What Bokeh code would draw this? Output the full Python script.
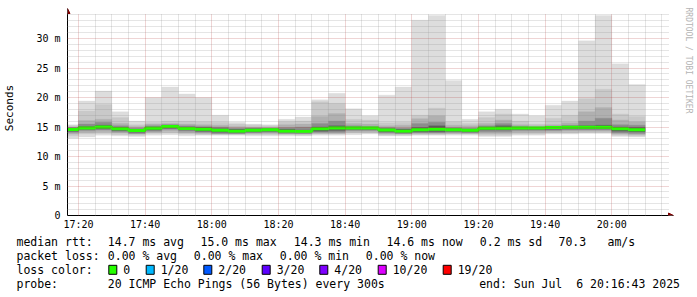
import math
from bokeh.plotting import figure
from bokeh.models import Range1d, FixedTicker, Arrow, NormalHead
from bokeh.layouts import column
from bokeh.core.properties import value
from bokeh.embed import file_html
from bokeh.resources import INLINE

# ---------------- data (ms) ----------------
bar_times = ["17:15", "17:20", "17:25", "17:30", "17:35", "17:40", "17:45", "17:50", "17:55",
             "18:00", "18:05", "18:10", "18:15", "18:20", "18:25", "18:30", "18:35", "18:40",
             "18:45", "18:50", "18:55", "19:00", "19:05", "19:10", "19:15", "19:20", "19:25",
             "19:30", "19:35", "19:40", "19:45", "19:50", "19:55", "20:00", "20:05"]
rtt_max = [15.4, 19.4, 21.1, 17.6, 16.0, 20.0, 21.8, 20.6, 20.0, 17.0, 15.8, 15.5, 15.4, 16.3, 16.7, 19.6, 20.7, 18.1,
           16.9, 20.4, 21.8, 33.1, 33.9, 22.9, 16.3, 17.6, 18.0, 17.2, 16.9, 18.7, 19.4, 29.6, 33.9, 25.7, 22.2]
rtt_p19 = [15.2, 17.7, 18.8, 16.6, 15.4, 15.8, 16.0, 16.0, 15.9, 15.8, 15.5, 15.3, 15.2, 15.9, 16.0, 19.3, 19.0, 16.3,
           16.2, 15.7, 15.8, 17.0, 18.2, 15.9, 15.6, 16.6, 17.2, 16.0, 15.5, 16.5, 17.0, 19.8, 21.4, 17.2, 16.8]
rtt_p17 = [15.0, 16.1, 16.3, 15.6, 15.1, 15.5, 15.6, 15.5, 15.4, 15.3, 15.1, 15.0, 14.9, 15.4, 15.5, 16.8, 17.3, 15.6,
           15.5, 15.2, 15.3, 16.4, 16.9, 15.3, 15.2, 15.6, 16.2, 15.4, 15.2, 15.4, 15.7, 17.6, 18.3, 16.2, 15.9]
rtt_p14 = [14.9, 15.5, 15.8, 15.2, 14.8, 15.2, 15.4, 15.2, 15.1, 15.0, 14.8, 14.8, 14.8, 14.9, 15.0, 15.6, 16.0, 15.2,
           15.1, 14.9, 14.8, 15.6, 15.8, 14.9, 14.8, 15.2, 15.6, 15.1, 15.0, 15.1, 15.3, 16.0, 16.5, 15.4, 15.3]
rtt_p12 = [14.8, 15.1, 15.3, 14.9, 14.6, 15.0, 15.3, 15.0, 14.9, 14.7, 14.6, 14.7, 14.7, 14.6, 14.5, 15.0, 15.2, 15.0,
           15.0, 14.7, 14.6, 14.9, 15.2, 14.7, 14.6, 15.0, 15.2, 15.0, 14.95, 15.0, 15.1, 15.2, 15.3, 15.0, 14.9]
median = [14.58, 14.85, 15.0, 14.7, 14.4, 14.8, 15.08, 14.75, 14.6, 14.45, 14.3, 14.45, 14.55, 14.3, 14.25, 14.7, 14.85, 14.85,
          14.85, 14.5, 14.3, 14.55, 14.6, 14.55, 14.45, 14.8, 14.8, 14.85, 14.85, 14.9, 14.97, 14.97, 14.97, 14.7, 14.55]
rtt_p9 = [14.3, 14.6, 14.7, 14.4, 14.1, 14.5, 14.8, 14.5, 14.3, 14.1, 14.0, 14.2, 14.3, 14.1, 14.0, 14.3, 14.4, 14.6,
          14.6, 14.2, 14.0, 14.2, 14.2, 14.3, 14.2, 14.5, 14.5, 14.6, 14.6, 14.6, 14.7, 14.7, 14.7, 14.3, 14.2]
rtt_p7 = [14.1, 14.4, 14.5, 14.2, 13.9, 14.3, 14.6, 14.3, 14.1, 13.9, 13.9, 14.0, 14.1, 13.9, 13.9, 14.1, 14.1, 14.4,
          14.4, 14.0, 13.9, 14.0, 14.0, 14.1, 14.0, 14.2, 14.2, 14.4, 14.4, 14.4, 14.5, 14.5, 14.5, 14.0, 13.9]
rtt_p4 = [13.8, 14.1, 14.2, 14.0, 13.8, 14.1, 14.3, 14.0, 13.9, 13.8, 13.8, 13.9, 13.9, 13.8, 13.8, 13.9, 13.9, 14.2,
          14.2, 13.8, 13.8, 13.9, 13.9, 13.9, 13.9, 13.9, 13.9, 14.1, 14.1, 14.2, 14.3, 14.3, 14.3, 13.8, 13.7]
rtt_p2 = [13.5, 13.8, 13.9, 13.7, 13.6, 13.9, 14.0, 13.8, 13.7, 13.7, 13.7, 13.7, 13.7, 13.7, 13.6, 13.8, 13.8, 14.0,
          14.0, 13.6, 13.6, 13.7, 13.7, 13.8, 13.8, 13.6, 13.6, 13.8, 13.8, 14.0, 14.0, 14.1, 14.1, 13.6, 13.5]
rtt_min = [13.1, 13.3, 13.6, 13.5, 13.4, 13.6, 13.7, 13.5, 13.6, 13.6, 13.6, 13.5, 13.5, 13.5, 13.5, 13.6, 13.6, 13.7,
           13.8, 13.5, 13.5, 13.6, 13.6, 13.6, 13.6, 13.4, 13.4, 13.6, 13.6, 13.8, 13.8, 13.9, 13.9, 13.4, 13.3]

y_ticks = [0, 5, 10, 15, 20, 25, 30]
y_tick_labels = ["0", "5 m", "10 m", "15 m", "20 m", "25 m", "30 m"]
x_tick_labels = ["17:20", "17:40", "18:00", "18:20", "18:40", "19:00", "19:20", "19:40", "20:00"]

rtt_stats = [14.7, 15.0, 14.3, 14.6]
rtt_sd = 0.2
rtt_ams = 70.3
loss_stats = [0.00, 0.00, 0.00, 0.00]
stat_names = ["avg", "max", "min", "now"]
loss_labels = ["0", "1/20", "2/20", "3/20", "4/20", "10/20", "19/20"]
loss_colors = ["#26ff00", "#00b8ff", "#0059ff", "#5e00ff", "#7e00ff", "#dd00ff", "#ff0000"]
probe_text = "20 ICMP Echo Pings (56 Bytes) every 300s"
end_text = "end: Sun Jul\u00a0 6 20:16:43 2025"
watermark = "RRDTOOL / TOBI OETIKER"

STEP = 5  # minutes per bar


def hm(s):
    h, m = s.split(":")
    return int(h) * 60 + int(m)


t0 = [hm(s) for s in bar_times]
t1 = [t + STEP for t in t0]

# ---------------- layout constants (pixels) ----------------
W, H_TOP, H_BOT = 697, 232, 65
FL, GR, GT, FB = 67, 668, 13, 215       # data-area left, grid right, grid top, axis bottom
START = 17 * 60 + 16 + 43 / 60.0        # 17:16:43
PX_MIN = 10.0 / 3.0
PX_MS = 5.9
MONO = "DejaVu Sans Mono"


def dx(px):
    return START + (px - FL) / PX_MIN


def dy(py):
    return (FB - py) / PX_MS


X_GRID_END = dx(GR)
Y_GRID_END = dy(GT)

p = figure(width=W, height=H_TOP, x_range=Range1d(START, dx(W)), y_range=Range1d(0, dy(0)),
           output_backend="svg", toolbar_location=None,
           min_border_left=FL, min_border_right=0, min_border_top=0, min_border_bottom=H_TOP - FB,
           background_fill_color="white", border_fill_color="white", outline_line_color=None)
p.frame_align = False

# smoke layers (outer -> inner)
layers = [(rtt_min, rtt_max, "#dddddd"), (rtt_p2, rtt_p19, "#c9c9c9"), (rtt_p4, rtt_p17, "#b0b0b0"),
          (rtt_p7, rtt_p14, "#8c8c8c"), (rtt_p9, rtt_p12, "#5c5c5c")]
for lo, hi, col in layers:
    p.quad(left=t0, right=t1, bottom=lo, top=hi, fill_color=col, line_color=col, line_width=0.3)

# median line (clipped to the frame like the smoke)
p.step(t0 + [t1[-1]], median + [median[-1]], mode="after", line_color=loss_colors[0], line_width=3)

# ticks / grid
x_major = [hm(s) for s in x_tick_labels]
x_minor = [m for m in range(hm("17:20"), hm("20:20"), 5) if m not in x_major]
y_minor = [v for v in range(0, 35) if v not in y_ticks]
xt = FixedTicker(ticks=x_major, minor_ticks=x_minor)
yt = FixedTicker(ticks=y_ticks, minor_ticks=y_minor)
p.xaxis.ticker = xt
p.yaxis.ticker = yt
p.xgrid.ticker = xt
p.ygrid.ticker = yt
p.xaxis.major_label_overrides = {v: s for v, s in zip(x_major, x_tick_labels)}
p.yaxis.major_label_overrides = {v: s for v, s in zip(y_ticks, y_tick_labels)}

p.xgrid.cross_bounds = (0, Y_GRID_END)
p.ygrid.cross_bounds = (START, X_GRID_END)
for g in (p.xgrid, p.ygrid):
    g.level = "annotation"
    g.grid_line_color = "#b03030"
    g.grid_line_alpha = 0.4
    g.grid_line_dash = "1 1"
    g.minor_grid_line_color = "#8c8c8c"
    g.minor_grid_line_alpha = 0.45
    g.minor_grid_line_dash = "1 1"

p.xaxis.bounds = (START, X_GRID_END)
p.yaxis.bounds = (0, Y_GRID_END)
for ax in (p.xaxis, p.yaxis):
    ax.major_tick_in = 0
    ax.major_tick_out = 0
    ax.minor_tick_in = 0
    ax.minor_tick_out = 0
    ax.axis_line_color = "black"
    ax.major_label_text_font = MONO
    ax.major_label_text_font_size = "10px"
    ax.major_label_text_color = "black"
p.xaxis.major_label_standoff = 3
p.yaxis.major_label_standoff = 7
p.yaxis.axis_label = "Seconds"
p.yaxis.axis_label_text_font = MONO
p.yaxis.axis_label_text_font_size = "11px"
p.yaxis.axis_label_text_font_style = "normal"
p.yaxis.axis_label_text_color = "black"
p.yaxis.axis_label_standoff = 17

# axis arrows
head = dict(size=5, fill_color="#800000", line_color="#800000")
p.add_layout(Arrow(end=NormalHead(**head), x_start=START, y_start=Y_GRID_END, x_end=START, y_end=dy(GT - 5),
                   line_color="black", line_width=1))
p.add_layout(Arrow(end=NormalHead(**head), x_start=X_GRID_END, y_start=0, x_end=dx(GR + 5), y_end=0,
                   line_color="black", line_width=1))

# watermark
p.text(x=[dx(687.5)], y=[dy(60)], text=[watermark], angle=-math.pi / 2, text_font=value(MONO),
       text_font_size="8px", text_color="#b4b4b4", text_align="center", text_baseline="middle")

# ---------------- legend figure ----------------
q = figure(width=W, height=H_BOT, x_range=Range1d(0, W), y_range=Range1d(H_BOT, 0),
           output_backend="svg", toolbar_location=None, min_border=0,
           background_fill_color="white", border_fill_color="white", outline_line_color=None)
q.frame_align = False
q.axis.visible = False
q.grid.visible = False

rows_y = [9.3, 23.3, 37.3, 51.5]
txt = dict(text_font=value(MONO), text_font_size="11.5px", text_color="black", text_baseline="middle")

row1_x = [16, 107.3, 200, 293.3, 386, 479.3, 558, 607]
row1 = ["median rtt:"] + ["%.1f ms %s" % (v, n) for v, n in zip(rtt_stats, stat_names)] + \
       ["%.1f ms sd" % rtt_sd, "%.1f" % rtt_ams, "am/s"]
q.text(x=row1_x, y=[rows_y[0]] * len(row1), text=row1, **txt)

row2_x = [16, 107.3, 193.3, 279.3, 365.3]
row2 = ["packet loss:"] + ["%.2f %% %s" % (v, n) for v, n in zip(loss_stats, stat_names)]
q.text(x=row2_x, y=[rows_y[1]] * len(row2), text=row2, **txt)

box_x = [108.3, 145.7, 203.3, 261.7, 319.3, 377.7, 442.7]
q.text(x=[16], y=[rows_y[2]], text=["loss color:"], **txt)
q.quad(left=box_x, right=[b + 8 for b in box_x], top=[rows_y[2] - 4.5] * 7, bottom=[rows_y[2] + 4.5] * 7,
       fill_color=loss_colors, line_color="black", line_width=1)
q.text(x=[b + 14.5 for b in box_x], y=[rows_y[2]] * 7, text=loss_labels, **txt)

q.text(x=[16, 107.3, 478.7], y=[rows_y[3]] * 3, text=["probe:", probe_text, end_text], **txt)

layout = column(p, q, spacing=0)
open("out.html", "w").write(file_html(layout, INLINE))
